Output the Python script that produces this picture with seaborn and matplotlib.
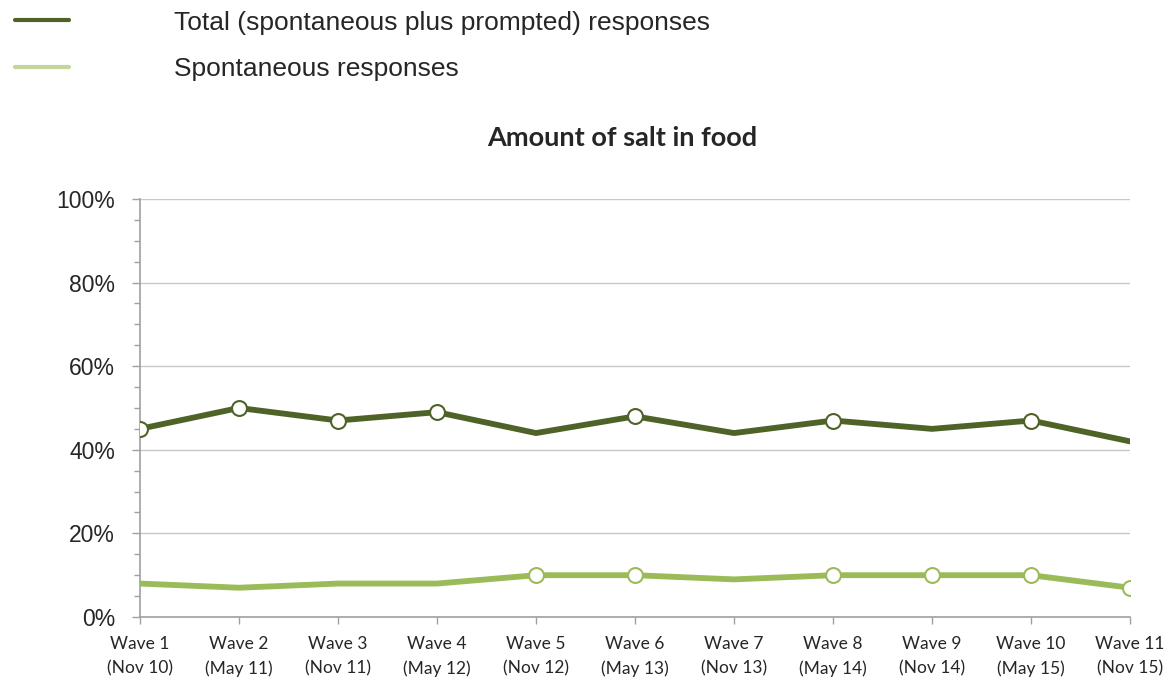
import numpy as np
import pandas as pd
import matplotlib
matplotlib.use('Agg')
import matplotlib.pyplot as plt
import seaborn as sns
from matplotlib.ticker import MultipleLocator, PercentFormatter

waves = ['Wave 1\n(Nov 10)', 'Wave 2\n(May 11)', 'Wave 3\n(Nov 11)', 'Wave 4\n(May 12)',
         'Wave 5\n(Nov 12)', 'Wave 6\n(May 13)', 'Wave 7\n(Nov 13)', 'Wave 8\n(May 14)',
         'Wave 9\n(Nov 14)', 'Wave 10\n(May 15)', 'Wave 11\n(Nov 15)']
total = [45, 50, 47, 49, 44, 48, 44, 47, 45, 47, 42]
spontaneous = [8, 7, 8, 8, 10, 10, 9, 10, 10, 10, 7]
# waves flagged with an open circle in each series
total_marked = [0, 1, 2, 3, 5, 7, 9]
spont_marked = [4, 5, 7, 8, 9, 10]

dark = '#4F6228'
light = '#9BBB59'

df = pd.DataFrame({'pos': range(len(waves)), 'total': total, 'spont': spontaneous})

sns.set_style('white')
plt.rcParams['font.family'] = ['Liberation Sans', 'DejaVu Sans']

fig = plt.figure(figsize=(11.76, 6.82), dpi=100)
ax = fig.add_axes([0.119, 0.0953, 0.842, 0.6130])

sns.lineplot(data=df, x='pos', y='total', ax=ax, color=dark, linewidth=4.2,
             label='Total (spontaneous plus prompted) responses', legend=False, zorder=3)
sns.lineplot(data=df, x='pos', y='spont', ax=ax, color=light, linewidth=4.2,
             label='Spontaneous responses', legend=False, zorder=3)
sns.scatterplot(data=df.iloc[total_marked], x='pos', y='total', ax=ax, s=115,
                facecolor='white', edgecolor=dark, linewidth=1.5, zorder=4, legend=False)
sns.scatterplot(data=df.iloc[spont_marked], x='pos', y='spont', ax=ax, s=115,
                facecolor='white', edgecolor=light, linewidth=1.5, zorder=4, legend=False)

ax.set_xlim(0, len(waves) - 1)
ax.set_ylim(0, 100)
ax.set_xticks(range(len(waves)))
ax.set_xticklabels(waves, fontfamily='Lato', fontsize=12.5, linespacing=1.6)
ax.yaxis.set_major_locator(MultipleLocator(20))
ax.yaxis.set_minor_locator(MultipleLocator(5))
ax.yaxis.set_major_formatter(PercentFormatter(decimals=0))
ax.tick_params(axis='y', which='major', labelsize=16.5, length=6, width=1, color='#A0A0A0', left=True, pad=12)
ax.tick_params(axis='y', which='minor', length=4, width=1, color='#A0A0A0', left=True)
ax.tick_params(axis='x', length=5, width=1, color='#A0A0A0', bottom=True, pad=9)
ax.grid(axis='y', which='major', color='#C8C8C8', lw=1)
ax.set_axisbelow(True)
ax.set_xlabel('')
ax.set_ylabel('')
for s in ['top', 'right']:
    ax.spines[s].set_visible(False)
for s in ['left', 'bottom']:
    ax.spines[s].set_color('#A0A0A0')
    ax.spines[s].set_linewidth(1.2)

ax.set_title('Amount of salt in food', fontfamily='Lato', fontweight='bold', fontsize=19.5,
             pad=38, x=0.487)

handles, labels = ax.get_legend_handles_labels()
leg = fig.legend(handles, labels, loc='upper left', bbox_to_anchor=(0.004, 1.0),
                 frameon=False, fontsize=19, handlelength=2.05, handletextpad=3.95,
                 labelspacing=0.85, borderaxespad=0.2, borderpad=0.2)
leg.get_lines()[0].set_linewidth(3)
leg.get_lines()[1].set_linewidth(3)
leg.get_lines()[1].set_color('#C3D69B')

fig.savefig('out.png', dpi=100)
